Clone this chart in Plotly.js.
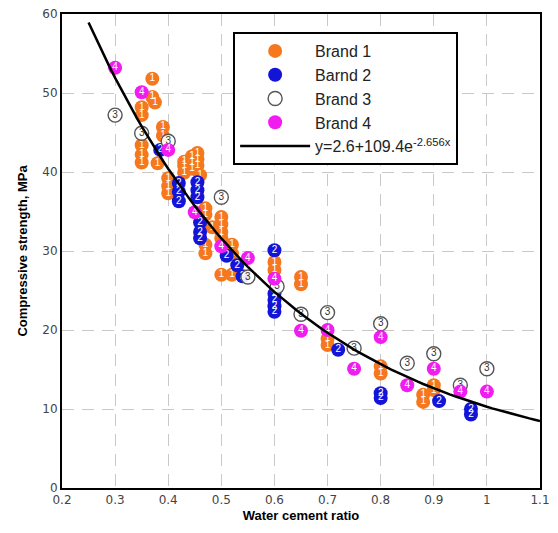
<!DOCTYPE html>
<html>
<head>
<meta charset="utf-8">
<script src="https://cdn.plot.ly/plotly-3.0.1.min.js"></script>
<style>html,body{margin:0;padding:0;background:#fff;}#chart{width:558px;height:533px;}</style>
</head>
<body>
<div id="chart"></div>
<script>
// Brand 1
var b1x = [0.35,0.35,0.35,0.35,0.35,0.37,0.37,0.375,0.39,0.39,0.38,0.40,0.40,0.40,0.43,0.43,0.43,0.445,0.445,0.445,0.455,0.455,0.455,0.46,0.47,0.47,0.483,0.50,0.50,0.50,0.50,0.47,0.47,0.52,0.52,0.50,0.52,0.60,0.60,0.65,0.65,0.70,0.70,0.80,0.80,0.88,0.88,0.90,0.90];
var b1y = [48.2,47.2,43.4,42.2,41.2,51.8,49.5,48.8,45.7,44.6,41.1,39.2,38.2,37.3,41.3,40.8,39.9,42.0,41.2,40.4,42.4,41.6,40.8,39.6,35.4,34.6,33.0,34.3,33.4,32.4,31.6,30.8,29.7,30.8,29.7,27.0,27.0,28.6,27.6,26.7,25.8,18.9,18.1,15.4,14.5,11.8,10.9,13.0,12.4];
// Barnd 2
var b2x = [0.385,0.42,0.42,0.42,0.455,0.455,0.455,0.46,0.46,0.46,0.51,0.53,0.54,0.60,0.60,0.60,0.60,0.60,0.72,0.80,0.80,0.91,0.97,0.97];
var b2y = [42.8,38.6,37.5,36.3,38.7,37.7,36.8,33.6,32.4,31.6,29.4,28.2,26.8,30.1,24.6,23.8,23.0,22.3,17.5,12.0,11.4,11.0,10.0,9.3];
// Brand 3
var b3x = [0.30,0.35,0.40,0.50,0.55,0.605,0.65,0.70,0.75,0.80,0.85,0.90,0.95,1.00];
var b3y = [47.2,44.9,43.9,36.8,26.7,25.5,22.0,22.2,17.7,20.8,15.8,17.0,13.0,15.1];
// Brand 4
var b4x = [0.30,0.35,0.40,0.45,0.50,0.55,0.60,0.65,0.70,0.75,0.80,0.85,0.90,0.95,1.00];
var b4y = [53.2,50.1,42.8,34.9,30.6,29.1,26.5,19.9,20.0,15.1,19.1,13.0,15.1,12.2,12.2];
// Fit: y = a + b*exp(c*x)
var fitA = 2.6, fitB = 109.4, fitC = -2.656;
var fitXStart = 0.25, fitXEnd = 1.1;

var xTicks = [0.2,0.3,0.4,0.5,0.6,0.7,0.8,0.9,1,1.1];
var xTickLabels = ['0.2','0.3','0.4','0.5','0.6','0.7','0.8','0.9','1','1.1'];
var yTicks = [0,10,20,30,40,50,60];

var fx = [], fy = [];
for (var i = 0; i <= 85; i++) {
  var x = fitXStart + (fitXEnd - fitXStart) * i / 85;
  fx.push(x); fy.push(fitA + fitB * Math.exp(fitC * x));
}

function labels(n, s){ var a=[]; for(var i=0;i<n;i++) a.push(s); return a; }

function brand(name, xs, ys, num, fill, lineCol, lw, txtCol){
  return {
    type:'scatter', mode:'markers+text', name:name, x:xs, y:ys,
    text: labels(xs.length, num), textposition:'middle center',
    textfont:{family:'Arial, Liberation Sans', size:10, color:txtCol},
    marker:{size:14, color:fill, line:{color:lineCol, width:lw}},
    hoverinfo:'x+y'
  };
}

var traces = [
  brand('Brand 1', b1x, b1y, '1', '#f5781f', '#f5781f', 0, '#ffffff'),
  brand('Barnd 2', b2x, b2y, '2', '#1414d8', '#1414d8', 0, '#ffffff'),
  brand('Brand 3', b3x, b3y, '3', 'rgba(255,255,255,0.9)', '#555', 1.4, '#333333'),
  brand('Brand 4', b4x, b4y, '4', '#f01cf0', '#f01cf0', 0, '#ffffff'),
  {type:'scatter', mode:'lines', name:'y=2.6+109.4e<sup>-2.656x</sup>', x:fx, y:fy,
   line:{color:'#000', width:2.5}}
];

var gridStyle = {showgrid:true, gridcolor:'#c8c8c8', gridwidth:1, griddash:'12px,8px'};

var layout = {
  width:558, height:533,
  margin:{l:62, r:18, t:14, b:45},
  paper_bgcolor:'#fff', plot_bgcolor:'#fff',
  showlegend:true,
  legend:{x:0.358, y:0.962, xanchor:'left', yanchor:'top', bgcolor:'#fff',
          bordercolor:'#000', borderwidth:2, font:{family:'Arial, Liberation Sans', size:16, color:'#222'},
          tracegroupgap:0, itemwidth:70},
  xaxis:Object.assign({range:[0.2,1.1], tickvals:xTicks, ticktext:xTickLabels, ticks:'',
    showline:true, linecolor:'#000', linewidth:2, mirror:true, zeroline:false,
    tickfont:{family:'DejaVu Sans', size:12, color:'#444'},
    title:{text:'<b>Water cement ratio</b>', font:{family:'Arial, Liberation Sans', size:13, color:'#000'}, standoff:4}}, gridStyle),
  yaxis:Object.assign({range:[0,60], tickvals:yTicks, ticks:'',
    showline:true, linecolor:'#000', linewidth:2, mirror:true, zeroline:false,
    tickfont:{family:'DejaVu Sans', size:12, color:'#444'},
    title:{text:'<b>Compressive strength, MPa</b>', font:{family:'Arial, Liberation Sans', size:13, color:'#000'}, standoff:12}}, gridStyle)
};

Plotly.newPlot('chart', traces, layout, {displayModeBar:false, staticPlot:true});
</script>
</body>
</html>
